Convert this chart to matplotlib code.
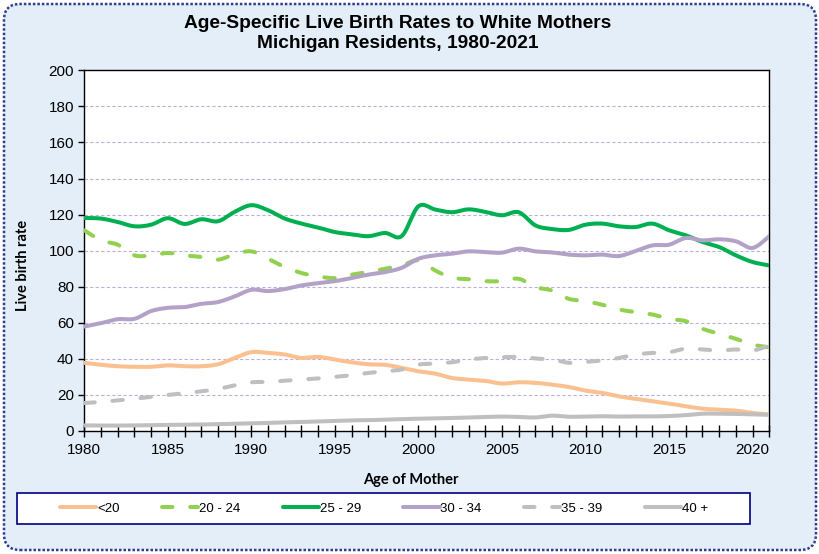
import numpy as np
import matplotlib
matplotlib.use('Agg')
import matplotlib.pyplot as plt
from matplotlib.patches import FancyBboxPatch, Rectangle
from matplotlib.lines import Line2D
from matplotlib.transforms import IdentityTransform

years = list(range(1980, 2022))

under20 = [37.8, 36.7, 35.9, 35.6, 35.6, 36.4, 35.9, 35.9, 37.0, 40.5,
           43.7, 43.3, 42.4, 40.5, 41.1, 39.6, 38.1, 37.0, 36.7, 35.0,
           33.1, 31.8, 29.4, 28.5, 27.8, 26.3, 27.0, 26.7, 25.7, 24.4,
           22.4, 21.1, 19.2, 17.8, 16.5, 15.2, 13.7, 12.4, 11.8, 11.3,
           10.0, 9.2]
age20_24 = [111.3, 105.7, 103.3, 97.4, 97.4, 98.7, 97.4, 96.5, 95.0, 98.0,
            99.6, 95.5, 90.9, 87.6, 85.7, 84.8, 86.7, 88.1, 90.0, 91.8,
            94.6, 89.0, 85.0, 84.2, 83.1, 83.1, 84.4, 79.8, 77.9, 73.3,
            72.0, 70.0, 67.4, 65.9, 64.6, 62.2, 60.9, 56.7, 53.9, 51.1,
            47.9, 46.4]
age25_29 = [118.1, 117.8, 115.9, 113.5, 114.4, 118.0, 114.8, 117.4, 116.3, 121.5,
            125.2, 122.4, 117.8, 115.0, 112.8, 110.3, 109.1, 108.0, 109.8, 108.1,
            124.6, 122.8, 121.3, 122.9, 121.5, 119.6, 121.3, 114.0, 112.0, 111.5,
            114.4, 115.0, 113.5, 113.1, 115.0, 111.3, 108.5, 104.8, 102.0, 97.4,
            93.7, 91.8]
age30_34 = [57.9, 59.8, 62.0, 62.2, 66.5, 68.3, 68.7, 70.5, 71.5, 74.6,
            78.3, 77.6, 78.7, 80.7, 82.0, 83.1, 84.8, 86.7, 88.1, 90.5,
            95.5, 97.4, 98.3, 99.6, 99.2, 98.9, 101.1, 99.6, 99.0, 97.8,
            97.4, 97.8, 97.0, 99.8, 102.9, 103.3, 107.0, 105.7, 106.3, 105.2,
            101.5, 108.0]
age35_39 = [15.5, 16.1, 17.0, 17.9, 18.9, 20.0, 20.9, 22.0, 23.3, 25.3,
            27.0, 27.2, 27.9, 28.5, 29.1, 30.0, 30.9, 32.2, 33.1, 34.1,
            36.8, 37.4, 38.1, 39.6, 40.5, 40.9, 41.1, 40.2, 39.6, 37.8,
            38.3, 39.1, 40.5, 42.4, 43.3, 43.7, 45.7, 45.2, 44.6, 45.2,
            44.6, 47.4]
age40plus = [3.1, 3.0, 3.0, 3.1, 3.2, 3.3, 3.4, 3.6, 3.8, 4.0,
             4.2, 4.5, 4.8, 5.0, 5.3, 5.6, 5.9, 6.0, 6.3, 6.6,
             6.8, 7.0, 7.2, 7.5, 7.8, 8.0, 7.8, 7.5, 8.5, 7.9,
             8.0, 8.2, 8.0, 8.1, 8.1, 8.3, 8.8, 9.6, 9.6, 9.5,
             9.2, 9.0]

series_labels = ['<20', '20 - 24', '25 - 29', '30 - 34', '35 - 39', '40 +']
series_values = [under20, age20_24, age25_29, age30_34, age35_39, age40plus]
series_colors = ['#FAC090', '#92D050', '#00B050', '#B3A2C7', '#BFBFBF', '#BFBFBF']
series_dashed = [False, True, False, False, True, False]

title_text = 'Age-Specific Live Birth Rates to White Mothers\nMichigan Residents, 1980-2021'
xlabel_text = 'Age of Mother'
ylabel_text = 'Live birth rate'


def smooth(x, y, n=16):
    """Bezier smoothing through the points (Excel-style smoothed line)."""
    x = np.asarray(x, float)
    y = np.asarray(y, float)
    P = np.column_stack([x, y])
    out = []
    m = len(P)
    for i in range(m - 1):
        p0 = P[max(i - 1, 0)]
        p1 = P[i]
        p2 = P[i + 1]
        p3 = P[min(i + 2, m - 1)]
        c1 = p1 + (p2 - p0) / 6.0
        c2 = p2 - (p3 - p1) / 6.0
        t = np.linspace(0, 1, n, endpoint=False)[:, None]
        b = ((1 - t) ** 3) * p1 + 3 * ((1 - t) ** 2) * t * c1 + 3 * (1 - t) * t ** 2 * c2 + t ** 3 * p2
        out.append(b)
    out.append(P[-1:])
    out = np.vstack(out)
    return out[:, 0], out[:, 1]


W, H = 820, 554
fig = plt.figure(figsize=(W / 100, H / 100), dpi=100)
fig.patch.set_facecolor('white')

bg = FancyBboxPatch((4, 4), W - 8, H - 8,
                    boxstyle='round,pad=0,rounding_size=16',
                    transform=IdentityTransform(),
                    facecolor='#E3EEF9', edgecolor='#2F3F8F',
                    linewidth=1.8, linestyle=(0, (1, 0.8)), zorder=0)
fig.add_artist(bg)

left, right, top, bottom = 84.3, 769.3, 70.3, 431.0
ax = fig.add_axes([left / W, 1 - bottom / H, (right - left) / W, (bottom - top) / H])
ax.set_facecolor('white')
ax.set_xlim(1980, 2021)
ax.set_ylim(0, 200)

for v in range(20, 200, 20):
    ax.axhline(v, color='#B7B2DE', lw=0.8, ls=(0, (3, 2)), zorder=1)

LW = 2.9
DASH = (2.6, 4.4)
for vals, col, dashed in zip(series_values, series_colors, series_dashed):
    sx, sy = smooth(years, vals)
    if dashed:
        ax.plot(sx, sy, color=col, lw=LW, dashes=DASH,
                dash_capstyle='round', solid_capstyle='round', zorder=3)
    else:
        ax.plot(sx, sy, color=col, lw=LW, solid_capstyle='round',
                solid_joinstyle='round', zorder=3)

for s in ax.spines.values():
    s.set_color('black')
    s.set_linewidth(1.0)

ax.set_yticks(range(0, 201, 20))
ax.set_xticks(years)
ax.set_xticklabels([str(y) if y % 5 == 0 else '' for y in years])
ax.tick_params(axis='x', direction='inout', length=9, width=1.0, pad=4,
               labelsize=11, colors='black')
ax.tick_params(axis='y', direction='out', length=4, width=1.0, pad=3.5,
               labelsize=11, colors='black')
for lab in ax.get_xticklabels() + ax.get_yticklabels():
    lab.set_fontfamily('Liberation Sans')

fig.text(398 / W, 1 - 33.5 / H, title_text, ha='center', va='center',
         fontsize=13.8, fontweight='bold', family='Liberation Sans',
         linespacing=1.3)
fig.text(411 / W, 1 - 480 / H, xlabel_text, ha='center', va='center',
         fontsize=10.5, fontweight='bold', family='Lato')
fig.text(23 / W, 1 - 265 / H, ylabel_text, ha='center', va='center',
         rotation=90, fontsize=10.5, fontweight='bold', family='Lato')

# legend frame
fig.add_artist(Rectangle((17 / W, 1 - 524 / H), (750 - 17) / W, (524 - 493) / H,
                         transform=fig.transFigure, facecolor='white',
                         edgecolor='#000080', linewidth=1.2, zorder=1))
handles = []
for col, dashed in zip(series_colors, series_dashed):
    if dashed:
        handles.append(Line2D([], [], color=col, lw=LW, dashes=DASH,
                              dash_capstyle='round'))
    else:
        handles.append(Line2D([], [], color=col, lw=LW, solid_capstyle='round'))
leg = fig.legend(handles, series_labels, ncol=6, loc='center',
                 bbox_to_anchor=(384 / W, 1 - 508.5 / H),
                 frameon=False, handlelength=2.75, handletextpad=0.05,
                 columnspacing=3.22, prop={'family': 'Liberation Sans', 'size': 9.5})
leg.set_zorder(2)

fig.savefig('out.png', dpi=100, facecolor=fig.get_facecolor())
